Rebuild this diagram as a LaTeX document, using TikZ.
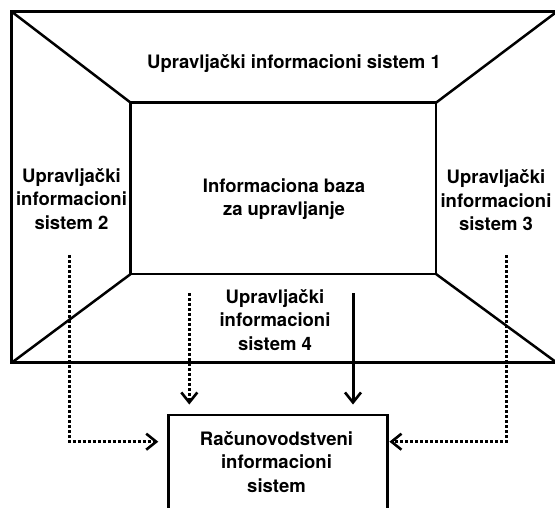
\documentclass[tikz,border=0pt]{standalone}
\usepackage{fontspec}
\setmainfont{TeX Gyre Heros}
\usetikzlibrary{arrows.meta}
\tikzset{
  frame/.style={line width=2.5pt, line join=miter},
  txt/.style={font=\fontsize{18.5}{23.5}\selectfont\bfseries, align=center, inner sep=0pt},
  feedtip/.tip={Straight Barb[length=10pt,width=16pt,line width=2.6pt]},
  feedline/.style={line width=3pt, arrows={-feedtip}},
  dotline/.style={dash pattern=on 3pt off 2pt}
}
\begin{document}
\begin{tikzpicture}[x=1pt,y=-1pt]
\useasboundingbox (0,0) rectangle (555,507);
\clip (0,0) rectangle (555,507);
% outer frame
\coordinate (o1) at (11.7,11.7);
\coordinate (o2) at (556.8,11.7);
\coordinate (o3) at (556.8,362.7);
\coordinate (o4) at (11.7,362.7);
% inner frame
\coordinate (i1) at (130.7,102.7);
\coordinate (i2) at (436,102.7);
\coordinate (i3) at (436,274);
\coordinate (i4) at (130.7,274);
\draw[frame] (o1) -- (o2) -- (o3) -- (o4) -- cycle;
\draw[frame] (i1) -- (i2) -- (i3) -- (i4) -- cycle;
\draw[frame] (o1) -- (i1);
\draw[frame] (o2) -- (i2);
\draw[frame] (o3) -- (i3);
\draw[frame] (o4) -- (i4);
% accounting system box
\node[draw, frame, anchor=north west, minimum width=219pt, minimum height=110pt, inner sep=0pt] (acc) at (167,413.5) {};
% labels
\node[txt, anchor=base] (uis1) at (294,68.5) {Upravljački informacioni sistem 1};
\node[txt] (uis2) at (71.5,198.8) {Upravljački\\informacioni\\sistem 2};
\node[txt] (uis3) at (496,200.5) {Upravljački\\informacioni\\sistem 3};
\node[txt] (base) at (284,199) {Informaciona baza\\za upravljanje};
\node[txt] (uis4) at (275,319.8) {Upravljački\\informacioni\\sistem 4};
\node[txt] (ris) at (276.5,461.8) {Računovodstveni\\informacioni\\sistem};
% flows into the accounting system
\coordinate (s2) at (69.3,255);
\coordinate (s3) at (506,255);
\coordinate (s4a) at (189.3,293);
\coordinate (s4b) at (353,293);
\coordinate (tL) at (158.3,441.7);
\coordinate (tR) at (389.4,441.7);
\coordinate (tA) at (189.3,404.5);
\coordinate (tB) at (353,404.5);
\draw[feedline, dotline] (s2) |- (tL);
\draw[feedline, dotline] (s3) |- (tR);
\draw[feedline, dotline] (s4a) -- (tA);
\draw[feedline] (s4b) -- (tB);
\end{tikzpicture}
\end{document}
